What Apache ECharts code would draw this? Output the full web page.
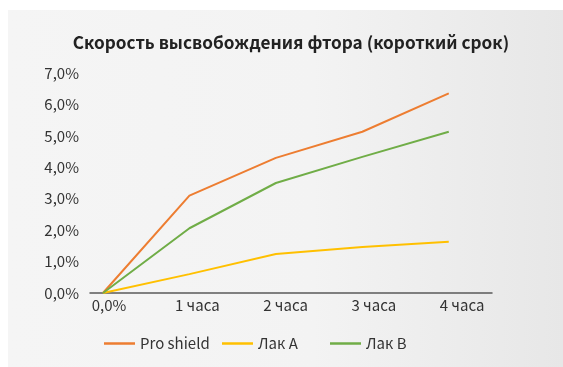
<!DOCTYPE html>
<html>
<head>
<meta charset="utf-8">
<script src="https://cdn.jsdelivr.net/npm/echarts@6/dist/echarts.min.js"></script>
<style>
  html, body { margin: 0; padding: 0; background: #ffffff; }
  #chart { width: 563px; height: 367px; }
</style>
</head>
<body>
<div id="chart"></div>
<script>
// Fluoride release over the first four hours, percent
const categories = ['0,0%', '1 часа', '2 часа', '3 часа', '4 часа'];
const seriesNames = ['Pro shield', 'Лак A', 'Лак B'];
const proShield = [0, 3.1, 4.3, 5.13, 6.35];
const lakA = [0, 0.6, 1.24, 1.46, 1.63];
const lakB = [0, 2.06, 3.5, 4.33, 5.13];
const colors = ['#ED7D31', '#FFC000', '#70AD47'];

const FONT = '"Noto Sans CJK SC", "Open Sans", sans-serif';
const chart = echarts.init(document.getElementById('chart'), null, { renderer: 'canvas' });

const toPoints = arr => arr.map((v, i) => [i, v]);
const allValues = [proShield, lakA, lakB];

const legendLefts = [104, 222, 330];

chart.setOption({
  backgroundColor: '#ffffff',
  animation: false,
  graphic: [{
    type: 'rect',
    left: 8, top: 10, z: -10,
    shape: { width: 555, height: 357 },
    style: {
      fill: new echarts.graphic.LinearGradient(0, 0, 1, 0, [
        { offset: 0, color: '#f5f5f5' },
        { offset: 0.55, color: '#f3f3f3' },
        { offset: 1, color: '#e7e7e7' }
      ])
    }
  }],
  title: {
    text: 'Скорость высвобождения фтора (короткий срок)',
    left: 286, top: 29, textAlign: 'center',
    textStyle: { fontFamily: FONT, fontSize: 17.2, fontWeight: 'bold', color: '#222222' }
  },
  legend: seriesNames.map((name, i) => ({
    data: [name],
    left: legendLefts[i], top: 336, padding: 0,
    icon: 'rect', itemWidth: 31, itemHeight: 2.5, itemGap: 5,
    textStyle: { fontFamily: FONT, fontSize: 15, color: '#333333' }
  })),
  grid: [
    { left: 90, right: 71, top: 73, bottom: 74 },
    { left: 109, right: 101, top: 73, bottom: 74 }
  ],
  xAxis: [
    {
      type: 'value', gridIndex: 0, min: -0.15, max: 4.5,
      axisLine: { show: true, lineStyle: { color: '#5a5a5a', width: 1.5 } },
      axisTick: { show: false }, axisLabel: { show: false }, splitLine: { show: false }
    },
    {
      type: 'category', gridIndex: 1, data: categories, boundaryGap: false,
      axisLine: { show: false }, axisTick: { show: false }, splitLine: { show: false },
      axisLabel: { margin: 5, fontFamily: FONT, fontSize: 15, color: '#333333' }
    }
  ],
  yAxis: [
    {
      type: 'value', gridIndex: 0, min: 0, max: 7, interval: 1,
      axisLine: { show: false }, axisTick: { show: false }, splitLine: { show: false },
      axisLabel: {
        margin: 11, fontFamily: FONT, fontSize: 15, color: '#333333',
        formatter: v => v.toFixed(1).replace('.', ',') + '%'
      }
    },
    {
      type: 'value', gridIndex: 1, min: 0, max: 7, show: false
    }
  ],
  series: seriesNames.map((name, i) => ({
    name, type: 'line', xAxisIndex: 0, yAxisIndex: 0,
    data: toPoints(allValues[i]),
    symbol: 'none',
    lineStyle: { color: colors[i], width: 2 },
    itemStyle: { color: colors[i] }
  }))
});
</script>
</body>
</html>
